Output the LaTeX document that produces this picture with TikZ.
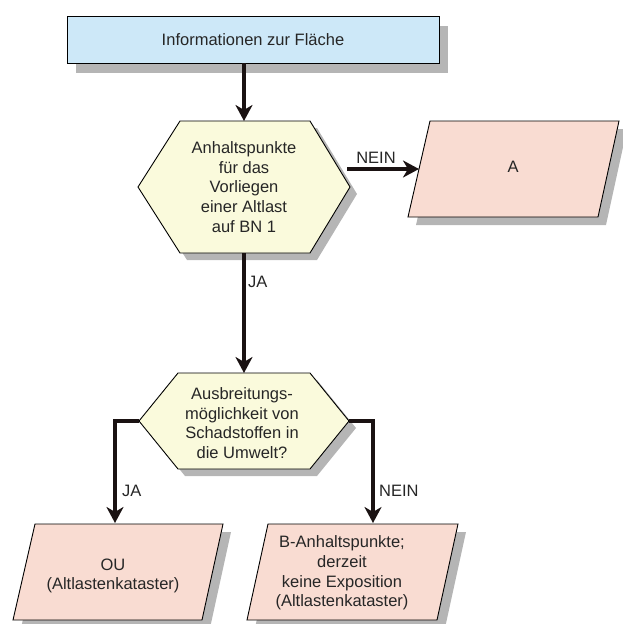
\documentclass[tikz,border=0pt]{standalone}
\usepackage{fontspec}
\setmainfont{Liberation Sans}
\usetikzlibrary{arrows.meta}
\definecolor{boxblue}{HTML}{CDE8F8}
\definecolor{hexyellow}{HTML}{FAFADC}
\definecolor{parapink}{HTML}{F9DCD2}
\definecolor{shadowgray}{HTML}{B5B5B5}
\definecolor{txt}{HTML}{262626}
\definecolor{arrowcol}{HTML}{1A1212}
\tikzset{
  outl/.style={draw=black, line width=0.9pt, line join=miter},
  shad/.style={fill=shadowgray},
  lbl/.style={text=txt, font=\fontsize{16.5}{19.6}\selectfont, align=center, inner sep=0pt},
  arr/.style={draw=arrowcol, line width=3.2pt, line join=miter, -{Stealth[length=16pt,width=17pt,inset=5pt]}},
}
\begin{document}
\begin{tikzpicture}[x=1pt,y=-1pt]
\useasboundingbox (0,0) rectangle (622,624);
% ---- shadows
\fill[shad] (76,26) rectangle (448,73);
\fill[shad] (187,128) -- (317,128) -- (357,194) -- (317,260) -- (187,260) -- (145,194) -- cycle;
\fill[shad] (438,129) -- (627,129) -- (606,225) -- (416,225) -- cycle;
\fill[shad] (185,380) -- (317,380) -- (356,428) -- (317,476) -- (185,476) -- (146,428) -- cycle;
\fill[shad] (43,532) -- (231,532) -- (210,628) -- (21,628) -- cycle;
\fill[shad] (276,532) -- (466,532) -- (445,628) -- (255,628) -- cycle;
% ---- shapes
\draw[outl, fill=boxblue] (67,16) rectangle (439,63);
\draw[outl, fill=hexyellow] (180,121) -- (310,121) -- (350,187) -- (310,253) -- (180,253) -- (138,187) -- cycle;
\draw[outl, fill=parapink] (430,121) -- (619,121) -- (598,217) -- (408,217) -- cycle;
\draw[outl, fill=hexyellow] (178,373) -- (310,373) -- (349,421) -- (310,469) -- (178,469) -- (139,421) -- cycle;
\draw[outl, fill=parapink] (35,524) -- (223,524) -- (202,620) -- (13,620) -- cycle;
\draw[outl, fill=parapink] (268,524) -- (458,524) -- (437,620) -- (247,620) -- cycle;
% ---- texts
\node[lbl] (info) at (253,40) {Informationen zur Fläche};
\node[lbl] (q1) at (244,187) {Anhaltspunkte\\für das\\Vorliegen\\einer Altlast\\auf BN 1};
\node[lbl] (resA) at (513,167) {A};
\node[lbl] (q2) at (242,423) {Ausbreitungs-\\möglichkeit von\\Schadstoffen in\\die Umwelt?};
\node[lbl] (resOU) at (113,576) {OU\\(Altlastenkataster)};
\node[lbl] (resB) at (342,573) {B-Anhaltspunkte;\\derzeit\\keine Exposition\\(Altlastenkataster)};
\node[lbl, anchor=center] (lnein1) at (376,158) {NEIN};
\node[lbl, anchor=west] (lja1) at (248,282) {JA};
\node[lbl, anchor=west] (lja2) at (122,491) {JA};
\node[lbl, anchor=west] (lnein2) at (379,491) {NEIN};
% ---- connector ends
\coordinate (infoS) at (244,63);
\coordinate (q1N) at (244,121);
\coordinate (q1S) at (244,253);
\coordinate (q1E) at (347,169);
\coordinate (resAW) at (419,169);
\coordinate (q2N) at (244,373);
\coordinate (q2W) at (139,421);
\coordinate (q2E) at (349,421);
\coordinate (resOUN) at (115,523);
\coordinate (resBN) at (373,523);
% ---- connectors
\draw[arr] (infoS) -- (q1N);
\draw[arr] (q1E) -- (resAW);
\draw[arr] (q1S) -- (q2N);
\draw[arr] (q2W) -| (resOUN);
\draw[arr] (q2E) -| (resBN);
\end{tikzpicture}
\end{document}
